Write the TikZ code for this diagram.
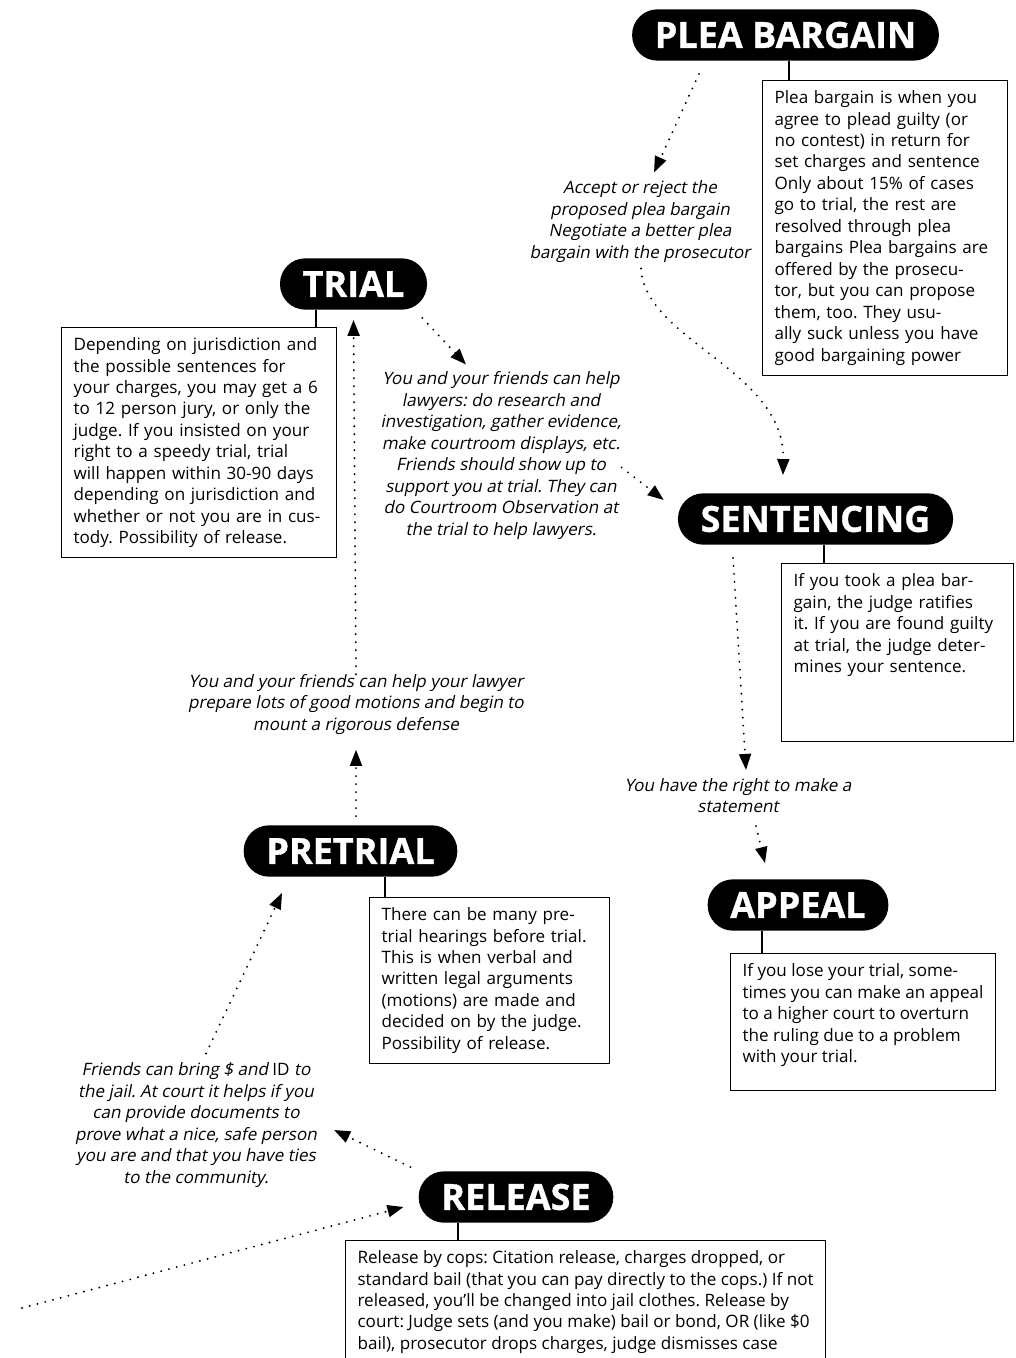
\documentclass[tikz,border=0pt]{standalone}
\usepackage{fontspec}
\setmainfont{Open Sans}
\newfontfamily\notefont{Open Sans}[FakeSlant=0.2]
\newfontfamily\stagefont{Open Sans}[BoldFeatures={FakeBold=1}]
\usetikzlibrary{arrows.meta}
\frenchspacing

\begin{document}
\begin{tikzpicture}[x=0.75pt,y=-0.75pt,
    stage/.style={fill=black,text=white,font=\fontsize{27}{27}\stagefont\bfseries,rounded corners=19pt,minimum height=38.5pt,inner xsep=17pt,inner ysep=0pt},
    infobox/.style={draw,line width=0.9pt,anchor=north west,align=left,inner xsep=9pt,inner ysep=7.5pt,font=\fontsize{12.8}{16.1}\selectfont},
    note/.style={align=center,inner sep=0pt,font=\fontsize{12.8}{16.1}\notefont},
    tie/.style={line width=1pt},
    flow/.style={line width=1.6pt,line cap=round,dash pattern=on 0pt off 6pt,-{Triangle[length=12pt,width=9pt]}}]
    \useasboundingbox (0,0) rectangle (1015,1358);
    % stages
    \node[stage] (plea) at (785.5,35) {PLEA BARGAIN};
    \node[stage] (trial) at (353.5,284) {TRIAL};
    \node[stage] (sent) at (815.5,519) {SENTENCING};
    \node[stage] (pretrial) at (350.5,851) {PRETRIAL};
    \node[stage] (appeal) at (798,905) {APPEAL};
    \node[stage] (release) at (516,1197) {RELEASE};
    % boxes
    \node[infobox,text width=165.75pt] (pleainfo) at (762,80) {Plea bargain is when you\\agree to plead guilty (or\\no contest) in return for\\set charges and sentence\\Only about 15\% of cases\\go to trial, the rest are\\resolved through plea\\bargains Plea bargains are\\offered by the prosecu-\\tor, but you can propose\\them, too. They usu-\\ally suck unless you have\\good bargaining power};
    \node[infobox,text width=188.25pt] (trialinfo) at (61,327) {Depending on jurisdiction and\\the possible sentences for\\your charges, you may get a 6\\to 12 person jury, or only the\\judge. If you insisted on your\\right to a speedy trial, trial\\will happen within 30-90 days\\depending on jurisdiction and\\whether or not you are in cus-\\tody. Possibility of release.};
    \node[infobox,text width=156pt] (sentinfo) at (781,563) {If you took a plea bar-\\gain, the judge ratifies\\it. If you are found guilty\\at trial, the judge deter-\\mines your sentence.\rule[-44pt]{0pt}{0pt}};
    \node[infobox,text width=162pt] (pretrialinfo) at (369,897) {There can be many pre-\\trial hearings before trial.\\This is when verbal and\\written legal arguments\\(motions) are made and\\decided on by the judge.\\Possibility of release.};
    \node[infobox] (appealinfo) at (730,953) {If you lose your trial, some-\\times you can make an appeal\\to a higher court to overturn\\the ruling due to a problem\\with your trial.\rule[-13.5pt]{0pt}{0pt}};
    \node[infobox] (releaseinfo) at (345,1240) {Release by cops: Citation release, charges dropped, or\\standard bail (that you can pay directly to the cops.) If not\\released, you'll be changed into jail clothes. Release by\\court: Judge sets (and you make) bail or bond, OR (like \$0\\bail), prosecutor drops charges, judge dismisses case\rule[-30pt]{0pt}{0pt}};
    % notes
    \node[note] (pleanote) at (640,221.5) {Accept or reject the\\proposed plea bargain\\Negotiate a better plea\\bargain with the prosecutor};
    \node[note] (trialnote) at (501,455.5) {You and your friends can help\\lawyers: do research and\\investigation, gather evidence,\\make courtroom displays, etc.\\Friends should show up to\\support you at trial. They can\\do Courtroom Observation at\\the trial to help lawyers.};
    \node[note] (sentnote) at (738,795.5) {You have the right to make a\\statement};
    \node[note] (pretrialnote) at (356,704.5) {You and your friends can help your lawyer\\prepare lots of good motions and begin to\\mount a rigorous defense};
    \node[note] (releasenote) at (196,1125) {Friends can bring \$ and {\normalfont\fontsize{12.8}{16.1}\selectfont ID} to\\the jail. At court it helps if you\\can provide documents to\\prove what a nice, safe person\\you are and that you have ties\\to the community.};
    % ties from stage to box
    \coordinate (pleatie) at ([xshift=2.6pt]plea.south);
    \draw[tie] (pleatie) -- (pleatie |- pleainfo.north);
    \coordinate (trialtie) at ([xshift=-28.1pt]trial.south);
    \draw[tie] (trialtie) -- (trialtie |- trialinfo.north);
    \coordinate (senttie) at ([xshift=6.4pt]sent.south);
    \draw[tie] (senttie) -- (senttie |- sentinfo.north);
    \coordinate (pretrialtie) at ([xshift=25.9pt]pretrial.south);
    \draw[tie] (pretrialtie) -- (pretrialtie |- pretrialinfo.north);
    \coordinate (appealtie) at ([xshift=-27pt]appeal.south);
    \draw[tie] (appealtie) -- (appealtie |- appealinfo.north);
    \coordinate (releasetie) at ([xshift=-43.5pt]release.south);
    \draw[tie] (releasetie) -- (releasetie |- releaseinfo.north);
    % dotted flow
    \draw[flow] ([shift={(-86.5,13)}]plea.south) -- ([shift={(14,-8)}]pleanote.north);
    \draw[flow] ([shift={(1,6)}]pleanote.south) .. controls +(4,72) and +(2,-105) .. ([shift={(-32.5,-18)}]sent.north);
    \draw[flow] ([shift={(-5,8)}]trial.south east) -- ([shift={(-35,-7)}]trialnote.north);
    \draw[flow] ([shift={(0,12)}]trialnote.east) -- ([shift={(-14,-19)}]sent.west);
    \draw[flow] ([shift={(-82.5,13)}]sent.south) -- ([shift={(8,-8)}]sentnote.north);
    \draw[flow] ([shift={(18,13)}]sentnote.south) -- ([shift={(-33,-16)}]appeal.north);
    \draw[flow] ([shift={(5.5,-9)}]pretrial.north) -- ([shift={(0,15)}]pretrialnote.south);
    \draw[flow] (pretrialnote.north) -- ([shift={(0,10)}]trial.south);
    \draw[flow] ([shift={(10,-9)}]releasenote.north) -- ([shift={(-68.5,16)}]pretrial.south);
    \draw[flow] ([shift={(-8,-4)}]release.north west) -- ([shift={(17,5)}]releasenote.east);
    \coordinate (jail) at (22,1308);
    \draw[flow] (jail) -- ([shift={(-15,10)}]release.west);
\end{tikzpicture}
\end{document}
